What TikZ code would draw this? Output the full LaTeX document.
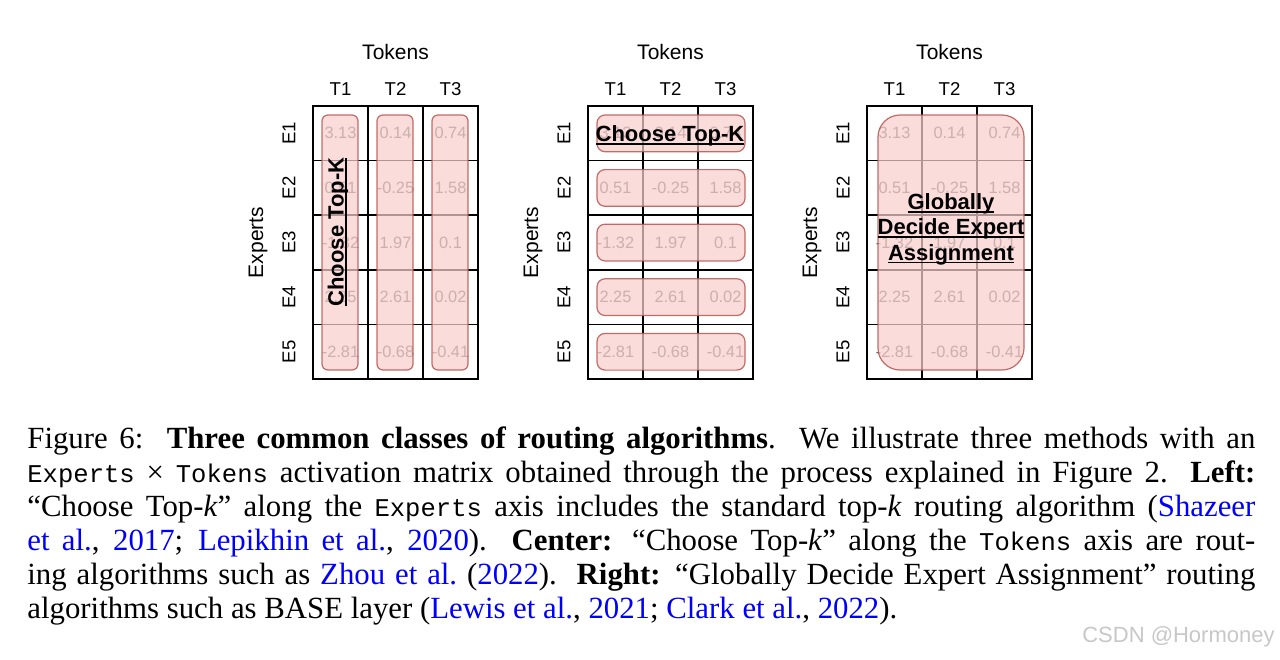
\documentclass[tikz,border=0pt]{standalone}
\usepackage{fontspec}
\setmainfont{Liberation Serif}
\setsansfont{Liberation Sans}
\setmonofont[Scale=0.83]{Liberation Mono}
\usepackage{tikz}

\definecolor{pickfill}{RGB}{248,206,204}
\definecolor{pickline}{RGB}{184,84,80}
\definecolor{valgray}{RGB}{95,95,95}
\definecolor{citeblue}{RGB}{0,0,250}
\newcommand{\cb}[1]{\textcolor{citeblue}{#1}}
\newcommand{\uln}[1]{\setbox0\hbox{#1}\rlap{\rule[-1.7pt]{\wd0}{0.9pt}}\box0}

\tikzset{
  pick/.style={draw=pickline,fill=pickfill,fill opacity=0.72,draw opacity=0.85,line width=0.6pt},
  val/.style={font=\sffamily\fontsize{8.2pt}{9pt}\selectfont,text=valgray},
  axis/.style={font=\sffamily\fontsize{10.5pt}{12pt}\selectfont},
  tick/.style={font=\sffamily\fontsize{9.3pt}{11pt}\selectfont},
  tag/.style={font=\sffamily\bfseries\fontsize{11pt}{12.7pt}\selectfont,align=center},
}

\begin{document}
\begin{tikzpicture}[x=0.5pt,y=-0.5pt]
  \useasboundingbox (0,0) rectangle (1280,659);
  \foreach \px/\pn in {313/L,588/C,867/R}{
    \begin{scope}[shift={(\px,106)}]
      \draw[line width=0.8pt] (0,0) rectangle (165,273);
      \foreach \i in {1,2} \draw[line width=0.8pt] (55*\i,0) -- (55*\i,273);
      \foreach \j in {1,...,4} \draw[line width=0.8pt] (0,54.6*\j) -- (165,54.6*\j);
      \node[axis] (\pn-tok) at (82.5,-54) {Tokens};
      \node[axis,rotate=90] (\pn-exp) at (-55,136.5) {Experts};
      \foreach \c in {1,2,3} \node[tick] (\pn-T\c) at (55*\c-27.5,-17) {T\c};
      \foreach \r in {1,...,5} \node[tick,rotate=90] (\pn-E\r) at (-24,54.6*\r-27.3) {E\r};
      \foreach \r/\va/\vb/\vc in {1/3.13/0.14/0.74,2/0.51/-0.25/1.58,3/-1.32/1.97/0.1,4/2.25/2.61/0.02,5/-2.81/-0.68/-0.41}{
        \node[val] (\pn-v\r-1) at (27.5,54.6*\r-27.3) {\va};
        \node[val] (\pn-v\r-2) at (82.5,54.6*\r-27.3) {\vb};
        \node[val] (\pn-v\r-3) at (137.5,54.6*\r-27.3) {\vc};
      }
    \end{scope}
  }

  \foreach \c in {0,1,2} \draw[pick,rounded corners=3pt] (322+55*\c,115) rectangle (358+55*\c,370);
  \foreach \r in {0,...,4} \draw[pick,rounded corners=4pt] (597,115+54.6*\r) rectangle (745,151.7+54.6*\r);
  \draw[pick,rounded corners=11pt] (878,115) rectangle (1024,370);

  \node[tag,rotate=90] (L-tag) at (338,232) {\uln{Choose Top-K}};
  \node[tag] (C-tag) at (670,136) {\uln{Choose Top-K}};
  \node[tag] (R-tag) at (951,229) {\uln{Globally}\\\uln{Decide Expert}\\\uln{Assignment}};

  \node[anchor=north west,inner sep=0,text width=614pt,align=justify,font=\fontsize{15.4pt}{17pt}\selectfont] (caption) at (27,426) {Figure 6:\ \ \textbf{Three common classes of routing algorithms}.\ \ We illustrate three methods with an\linebreak
    \texttt{Experts} × \texttt{Tokens} activation matrix obtained through the process explained in Figure 2. \textbf{Left:}\linebreak
    “Choose Top-\textit{k}” along the \texttt{Experts} axis includes the standard top-\textit{k} routing algorithm (\cb{Shazeer}\linebreak
    \cb{et al.}, \cb{2017}; \cb{Lepikhin et al.}, \cb{2020}).\ \ \textbf{Center:} “Choose Top-\textit{k}” along the \texttt{Tokens} axis are rout-\linebreak
    ing algorithms such as \cb{Zhou et al.\@}\ (\cb{2022}).\ \ \textbf{Right:} “Globally Decide Expert Assignment” routing\linebreak
    algorithms such as BASE layer (\cb{Lewis et al.}, \cb{2021}; \cb{Clark et al.}, \cb{2022}).};

  \node[anchor=east,inner sep=0,text=black!22,font=\sffamily\fontsize{11pt}{12pt}\selectfont] (mark) at (1275,637) {CSDN @Hormoney};
\end{tikzpicture}
\end{document}
